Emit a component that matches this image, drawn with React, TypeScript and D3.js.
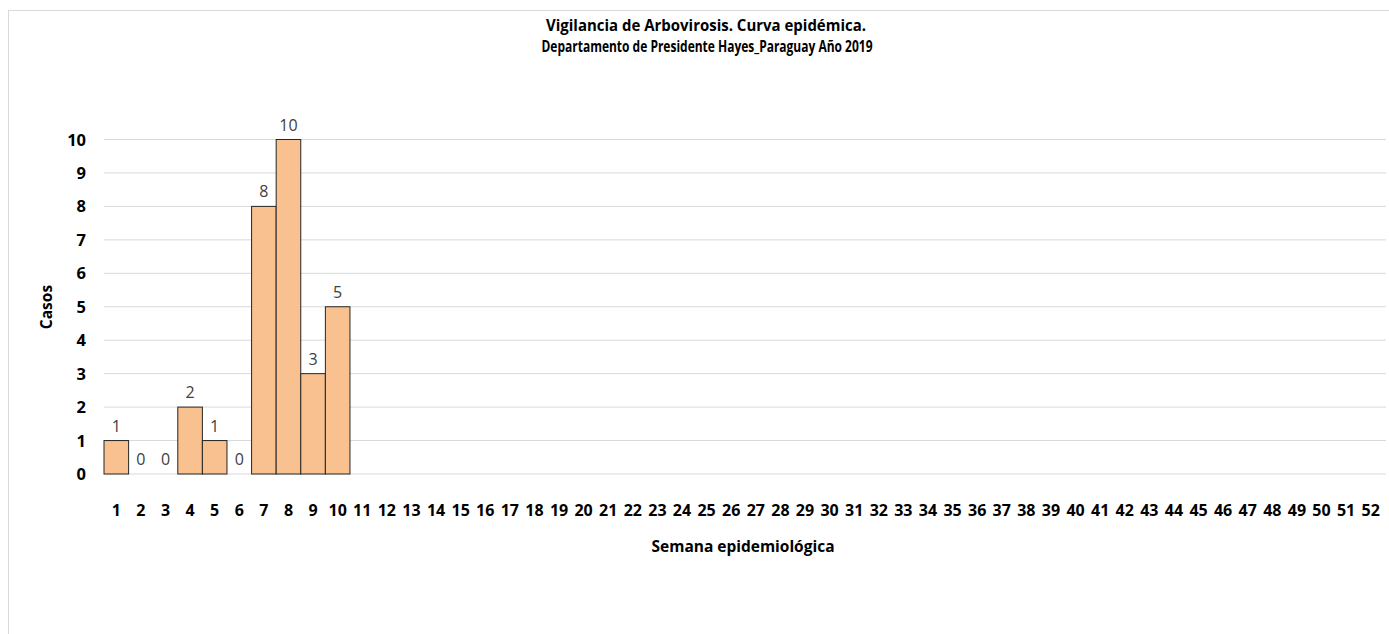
import * as d3 from 'd3';

const weeks = d3.range(1, 53).map(String);
const casos = [1, 0, 0, 2, 1, 0, 8, 10, 3, 5];
const yTicks = [0, 1, 2, 3, 4, 5, 6, 7, 8, 9, 10];
const titleLines = [
  'Vigilancia de Arbovirosis. Curva epidémica.',
  'Departamento de Presidente Hayes_Paraguay Año 2019',
];

const W = 1389;
const H = 634;
const font = '"Open Sans", "Noto Sans", sans-serif';

export default function App() {
  const x = d3.scaleBand<string>().domain(weeks).range([104, 1383]).padding(0);
  const y = d3.scaleLinear().domain([0, 10]).range([474, 139.5]);

  return (
    <svg
      width={W}
      height={H}
      style={{ position: 'absolute', left: 0, top: 0, background: '#fff' }}
      fontFamily={font}
    >
      {/* chart frame */}
      <rect x={8.5} y={10.5} width={W + 10} height={H + 10} fill="#fff" stroke="#d9d9d9" />

      {/* title */}
      <text x={706} y={30.5} textAnchor="middle" fontSize={16.5} fontWeight="bold" textLength={320} lengthAdjust="spacingAndGlyphs">
        {titleLines[0]}
      </text>
      <text x={707} y={52} textAnchor="middle" fontSize={16.5} fontWeight="bold" textLength={331} lengthAdjust="spacingAndGlyphs">
        {titleLines[1]}
      </text>

      {/* gridlines + y ticks */}
      {yTicks.map(t => (
        <g key={t}>
          <line x1={104} x2={1386} y1={y(t)} y2={y(t)} stroke="#d9d9d9" strokeWidth={1} />
          <text x={86} y={y(t) + 6} textAnchor="end" fontSize={16.5} fontWeight="bold" fill="#000">
            {t}
          </text>
        </g>
      ))}

      {/* bars */}
      {casos.map((v, i) => (
        <g key={i}>
          {v > 0 && (
            <rect
              x={x(weeks[i])!}
              y={y(v)}
              width={x.bandwidth()}
              height={y(0) - y(v)}
              fill="#F8C18F"
              stroke="#262626"
              strokeWidth={1}
            />
          )}
          <text
            x={x(weeks[i])! + x.bandwidth() / 2}
            y={y(v) - 9}
            textAnchor="middle"
            fontSize={16}
            fill="#404040"
          >
            {v}
          </text>
        </g>
      ))}

      {/* x tick labels */}
      {weeks.map(w => (
        <text key={w} x={x(w)! + x.bandwidth() / 2} y={516} textAnchor="middle" fontSize={16} fontWeight="bold" fill="#000">
          {w}
        </text>
      ))}

      {/* axis titles */}
      <text x={743} y={552} textAnchor="middle" fontSize={16} fontWeight="bold" textLength={183} lengthAdjust="spacingAndGlyphs">
        Semana epidemiológica
      </text>
      <text
        transform="translate(52,307) rotate(-90)"
        textAnchor="middle"
        fontSize={15.5}
        fontWeight="bold"
      >
        Casos
      </text>
    </svg>
  );
}
